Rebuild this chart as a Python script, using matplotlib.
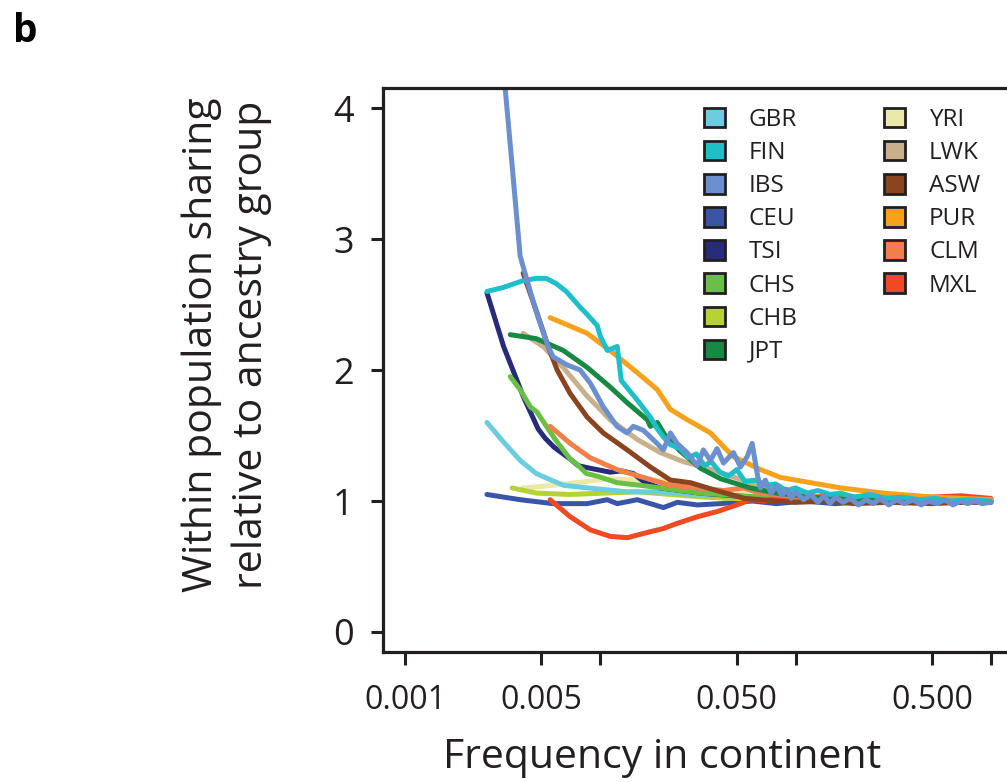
import matplotlib
matplotlib.use("Agg")
import matplotlib.pyplot as plt
from matplotlib.patches import Patch

POPS = ["GBR", "FIN", "IBS", "CEU", "TSI", "CHS", "CHB", "JPT",
        "YRI", "LWK", "ASW", "PUR", "CLM", "MXL"]

COLORS = {
    "GBR": "#6dcde0", "FIN": "#1fbfc9", "IBS": "#6b8fcf", "CEU": "#3a55a8",
    "TSI": "#262b7c", "CHS": "#6abf45", "CHB": "#b5d334", "JPT": "#168a43",
    "YRI": "#ece9a8", "LWK": "#c8b08a", "ASW": "#8a4420", "PUR": "#f7a11d",
    "CLM": "#f07f4a", "MXL": "#f04a23",
}

GBR_FREQ = [0.00263, 0.0032, 0.00389, 0.0047, 0.0056, 0.0065, 0.0086, 0.0138, 0.020, 0.030,
            0.045, 0.065, 0.085, 0.12, 0.17, 0.25, 0.36, 0.52, 0.75, 1.0]
GBR_SHARE = [1.60, 1.45, 1.31, 1.21, 1.16, 1.12, 1.10, 1.07, 1.07, 1.05,
             1.04, 1.03, 1.02, 1.01, 1.02, 1.00, 1.01, 0.99, 1.00, 1.00]

FIN_FREQ = [0.00263, 0.00318, 0.00398, 0.0047, 0.00528, 0.00595, 0.0067, 0.00789, 0.00838, 0.00965,
            0.0100, 0.01086, 0.01222, 0.01281, 0.01548, 0.01805, 0.01961, 0.02104, 0.02286, 0.0257,
            0.0283, 0.031, 0.0342, 0.037, 0.041, 0.0453, 0.050, 0.055, 0.063, 0.070,
            0.079, 0.09, 0.10, 0.115, 0.13, 0.15, 0.17, 0.20, 0.24, 0.29,
            0.35, 0.43, 0.52, 0.63, 0.77, 1.0]
FIN_SHARE = [2.60, 2.63, 2.68, 2.70, 2.70, 2.66, 2.60, 2.48, 2.44, 2.34,
             2.26, 2.15, 2.18, 1.92, 1.77, 1.64, 1.55, 1.49, 1.43, 1.40,
             1.33, 1.36, 1.27, 1.30, 1.22, 1.19, 1.24, 1.15, 1.16, 1.12,
             1.13, 1.08, 1.10, 1.06, 1.08, 1.05, 1.06, 1.03, 1.05, 1.02,
             1.03, 1.01, 1.02, 1.00, 1.01, 1.00]

IBS_FREQ = [0.00312, 0.00326, 0.00354, 0.00389, 0.00421, 0.00474, 0.00541, 0.00574, 0.00675, 0.00789,
            0.00889, 0.01036, 0.01218, 0.0137, 0.01476, 0.01662, 0.01953, 0.02104, 0.02286, 0.02474,
            0.02783, 0.03131, 0.03374, 0.03664, 0.03963, 0.04274, 0.04806, 0.05223, 0.05655, 0.05993,
            0.0636, 0.066, 0.070, 0.075, 0.080, 0.085, 0.090, 0.095, 0.10, 0.11,
            0.12, 0.13, 0.14, 0.15, 0.16, 0.175, 0.19, 0.21, 0.23, 0.25,
            0.27, 0.30, 0.33, 0.36, 0.40, 0.44, 0.48, 0.53, 0.58, 0.64,
            0.70, 0.76, 0.83, 0.90, 1.0]
IBS_SHARE = [4.30, 4.15, 3.56, 2.87, 2.69, 2.43, 2.18, 2.10, 2.04, 2.00,
             1.90, 1.72, 1.57, 1.52, 1.57, 1.54, 1.44, 1.39, 1.52, 1.44,
             1.37, 1.27, 1.39, 1.31, 1.40, 1.29, 1.37, 1.26, 1.34, 1.44,
             1.21, 1.10, 1.16, 1.06, 1.12, 1.04, 1.09, 1.02, 1.07, 1.01,
             1.05, 0.99, 1.04, 0.98, 1.03, 0.99, 1.02, 0.97, 1.01, 0.98,
             1.02, 0.97, 1.01, 0.98, 1.01, 0.97, 1.00, 0.98, 1.01, 0.97,
             1.00, 0.98, 1.00, 0.98, 0.99]

CEU_FREQ = [0.00263, 0.00389, 0.00574, 0.00858, 0.01086, 0.01222, 0.01548, 0.02104, 0.02483, 0.03144,
            0.04125, 0.06, 0.08, 0.11, 0.16, 0.25, 0.40, 0.60, 1.0]
CEU_SHARE = [1.05, 1.01, 0.98, 0.98, 1.01, 0.98, 1.01, 0.95, 0.99, 0.97,
             0.98, 1.00, 0.98, 1.00, 0.98, 1.00, 0.99, 1.00, 0.99]

TSI_FREQ = [0.00263, 0.0032, 0.00375, 0.00403, 0.00481, 0.00522, 0.00581, 0.00702, 0.00771, 0.00889,
            0.01125, 0.01281, 0.01476, 0.0170, 0.0203, 0.0326, 0.0588, 0.10, 0.20, 0.40, 0.70, 1.0]
TSI_SHARE = [2.59, 2.18, 1.92, 1.80, 1.55, 1.48, 1.41, 1.32, 1.27, 1.25,
             1.22, 1.23, 1.21, 1.14, 1.10, 1.06, 1.03, 1.01, 1.00, 1.00, 0.99, 1.00]

CHS_FREQ = [0.00346, 0.00389, 0.00438, 0.00474, 0.00588, 0.00702, 0.0076, 0.00848, 0.00965, 0.0122,
            0.016, 0.0229, 0.0326, 0.0522, 0.08, 0.12, 0.20, 0.35, 0.60, 1.0]
CHS_SHARE = [1.95, 1.85, 1.72, 1.68, 1.47, 1.32, 1.28, 1.21, 1.19, 1.14,
             1.12, 1.09, 1.06, 1.04, 1.02, 1.01, 1.00, 1.01, 1.00, 1.00]

CHB_FREQ = [0.00354, 0.00474, 0.00702, 0.01036, 0.01548, 0.0229, 0.0337, 0.0464, 0.07, 0.10, 0.20, 0.40, 1.0]
CHB_SHARE = [1.10, 1.06, 1.05, 1.06, 1.07, 1.05, 1.03, 1.02, 1.01, 1.00, 1.01, 0.99, 1.00]

JPT_FREQ = [0.00346, 0.0047, 0.00646, 0.00858, 0.01125, 0.01375, 0.01742, 0.01805, 0.0196, 0.0215,
            0.0257, 0.0326, 0.0413, 0.0588, 0.08, 0.12, 0.20, 0.40, 1.0]
JPT_SHARE = [2.27, 2.24, 2.15, 2.02, 1.87, 1.75, 1.62, 1.57, 1.60, 1.50,
             1.38, 1.25, 1.17, 1.10, 1.06, 1.03, 1.01, 1.00, 1.00]

YRI_FREQ = [0.00403, 0.00574, 0.00858, 0.01125, 0.01548, 0.01961, 0.0248, 0.0337, 0.0464, 0.07,
            0.10, 0.20, 0.50, 1.0]
YRI_SHARE = [1.10, 1.12, 1.15, 1.17, 1.16, 1.16, 1.14, 1.10, 1.07, 1.04,
             1.02, 1.00, 1.01, 1.00]

LWK_FREQ = [0.00403, 0.0051, 0.00646, 0.00858, 0.01125, 0.01548, 0.0203, 0.02665, 0.0337, 0.0427,
            0.0588, 0.08, 0.10, 0.15, 0.25, 0.50, 1.0]
LWK_SHARE = [2.28, 2.18, 2.02, 1.80, 1.62, 1.47, 1.37, 1.30, 1.26, 1.21,
             1.14, 1.08, 1.05, 1.02, 1.01, 1.00, 1.00]

ASW_FREQ = [0.00403, 0.00476, 0.00541, 0.00602, 0.00702, 0.00858, 0.01036, 0.01375, 0.01805, 0.02286,
            0.02894, 0.03934, 0.05477, 0.08, 0.10, 0.15, 0.20, 0.30, 0.50, 0.70, 1.0]
ASW_SHARE = [2.74, 2.43, 2.18, 2.00, 1.82, 1.64, 1.52, 1.39, 1.26, 1.16,
             1.14, 1.08, 1.02, 1.00, 0.99, 1.00, 0.98, 0.99, 0.98, 0.99, 0.99]

PUR_FREQ = [0.00554, 0.00858, 0.01166, 0.01548, 0.01961, 0.02286, 0.02794, 0.03664, 0.04125, 0.0479,
            0.0661, 0.0837, 0.1194, 0.1701, 0.2827, 0.5102, 1.0]
PUR_SHARE = [2.40, 2.28, 2.13, 1.98, 1.85, 1.70, 1.62, 1.52, 1.44, 1.34,
             1.24, 1.18, 1.14, 1.10, 1.06, 1.03, 1.01]

CLM_FREQ = [0.00554, 0.00702, 0.00889, 0.0122, 0.01662, 0.02286, 0.03144, 0.04274, 0.0541, 0.0661,
            0.09, 0.12, 0.20, 0.35, 0.60, 1.0]
CLM_SHARE = [1.57, 1.44, 1.33, 1.24, 1.18, 1.12, 1.10, 1.08, 1.10, 1.06,
             1.04, 1.02, 1.01, 1.02, 1.01, 1.01]

MXL_FREQ = [0.00554, 0.00702, 0.00889, 0.01125, 0.01375, 0.01742, 0.02104, 0.02483, 0.03144, 0.03981,
            0.050, 0.0588, 0.07, 0.08, 0.10, 0.15, 0.20, 0.30, 0.50, 0.70, 1.0]
MXL_SHARE = [1.01, 0.88, 0.78, 0.73, 0.72, 0.76, 0.79, 0.83, 0.88, 0.92,
             0.97, 1.01, 1.00, 1.03, 1.02, 1.04, 1.03, 1.04, 1.03, 1.04, 1.02]

SERIES = {
    "GBR": (GBR_FREQ, GBR_SHARE), "FIN": (FIN_FREQ, FIN_SHARE), "IBS": (IBS_FREQ, IBS_SHARE),
    "CEU": (CEU_FREQ, CEU_SHARE), "TSI": (TSI_FREQ, TSI_SHARE), "CHS": (CHS_FREQ, CHS_SHARE),
    "CHB": (CHB_FREQ, CHB_SHARE), "JPT": (JPT_FREQ, JPT_SHARE), "YRI": (YRI_FREQ, YRI_SHARE),
    "LWK": (LWK_FREQ, LWK_SHARE), "ASW": (ASW_FREQ, ASW_SHARE), "PUR": (PUR_FREQ, PUR_SHARE),
    "CLM": (CLM_FREQ, CLM_SHARE), "MXL": (MXL_FREQ, MXL_SHARE),
}

# drawing order (last on top)
DRAW_ORDER = ["CEU", "YRI", "CHB", "GBR", "TSI", "CHS", "MXL", "CLM",
              "LWK", "ASW", "JPT", "PUR", "FIN", "IBS"]

X_TICKS = [0.001, 0.005, 0.01, 0.05, 0.1, 0.5, 1.0]
X_TICK_LABELS = ["0.001", "0.005", "", "0.050", "", "0.500", ""]
Y_TICKS = [0, 1, 2, 3, 4]

INK = "#231f20"


def plot_sharing():
    plt.rcParams["font.family"] = ["Open Sans", "DejaVu Sans"]
    fig = plt.figure(figsize=(10.07, 7.82), dpi=100)
    ax = fig.add_axes([0.3803, 0.1662, 0.6197, 0.7212])

    for pop in DRAW_ORDER:
        freq, share = SERIES[pop]
        ax.plot(freq, share, color=COLORS[pop], lw=3.6, solid_joinstyle="round",
                solid_capstyle="round")

    ax.set_xscale("log")
    ax.set_xlim(0.000772, 1.209)
    ax.set_ylim(-0.153, 4.153)

    ax.set_xticks(X_TICKS)
    ax.set_xticklabels(X_TICK_LABELS)
    ax.minorticks_off()
    ax.set_yticks(Y_TICKS)
    ax.tick_params(axis="x", length=9, width=2.2, pad=14, labelsize=23, colors=INK)
    ax.tick_params(axis="y", length=9, width=2.2, pad=12, labelsize=26, colors=INK)
    for side in ["left", "bottom", "top"]:
        ax.spines[side].set_linewidth(2.3)
        ax.spines[side].set_color(INK)
    ax.spines["right"].set_visible(False)

    handles = [Patch(facecolor=COLORS[p], edgecolor=INK, linewidth=2) for p in POPS]
    leg_kw = dict(loc="upper left", bbox_transform=fig.transFigure, frameon=False,
                  fontsize=17.5, handlelength=0.85, handleheight=0.85, handletextpad=1.0,
                  labelspacing=0.37, borderpad=0, borderaxespad=0, labelcolor=INK)
    leg1 = ax.legend(handles[:8], POPS[:8], bbox_to_anchor=(0.699, 0.862), **leg_kw)
    ax.add_artist(leg1)
    ax.legend(handles[8:], POPS[8:], bbox_to_anchor=(0.878, 0.862), **leg_kw)

    fig.text(662 / 1007, 1 - 758 / 782, "Frequency in continent", ha="center", va="center",
             fontsize=29.5, color=INK)
    fig.text(227 / 1007, 1 - 345 / 782, "Within population sharing\nrelative to ancestry group",
             rotation=90, ha="center", va="center", fontsize=29.5, linespacing=1.3, color=INK)
    fig.text(13 / 1007, 1 - 12 / 782, "b", ha="left", va="top", fontsize=28,
             fontweight="bold", color="black")

    fig.savefig("out.png", dpi=100)
    plt.close(fig)


if __name__ == "__main__":
    plot_sharing()
